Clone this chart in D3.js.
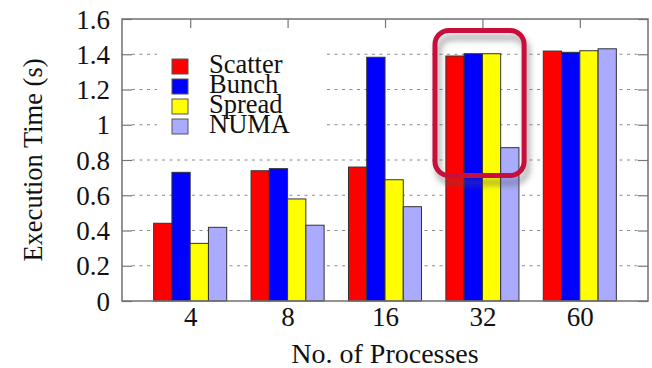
<!DOCTYPE html>
<html><head><meta charset="utf-8">
<script src="https://cdn.jsdelivr.net/npm/d3@7"></script>
<style>body{margin:0;background:#fff}svg{display:block}</style>
</head><body><svg id="c" width="652" height="368"></svg>
<script>
const categories = ["4", "8", "16", "32", "60"];
const seriesNames = ["Scatter", "Bunch", "Spread", "NUMA"];
const scatter = [0.441, 0.739, 0.760, 1.390, 1.418];
const bunch   = [0.730, 0.751, 1.383, 1.403, 1.411];
const spread  = [0.327, 0.579, 0.688, 1.403, 1.420];
const numa    = [0.418, 0.430, 0.535, 0.870, 1.431];
const yTicks = [0, 0.2, 0.4, 0.6, 0.8, 1, 1.2, 1.4, 1.6];
const colors = ["#ff0000", "#0000ff", "#ffff00", "#aaaaff"];
const highlight = {group: "32", dx0: -0.487, dx1: 0.428, y0: 0.712, y1: 1.535};

const FONT = "'Liberation Serif', Tinos, 'DejaVu Serif', 'Noto Serif', serif";
const series = [scatter, bunch, spread, numa];
const svg = d3.select("#c").attr("font-family", FONT);
const L = 122, R = 648, T = 19, B = 301;
const x = d3.scaleLinear().domain([-0.7, categories.length - 0.3]).range([L, R]);
const y = d3.scaleLinear().domain([0, 1.6]).range([B, T]);
const groupW = 0.75, barW = groupW / seriesNames.length;

// grid
const gridG = svg.append("g");
yTicks.filter(t => t > 0 && t < 1.6).forEach(t => {
  gridG.append("line").attr("x1", L + 10).attr("x2", R - 10).attr("y1", y(t)).attr("y2", y(t))
    .attr("stroke", "#8a8a8a").attr("stroke-width", 1).attr("stroke-dasharray", "3,4.5");
});

// axes (ticks inside, mirrored)
const yAxisL = d3.axisLeft(y).tickValues(yTicks).tickSizeInner(-10).tickSizeOuter(0).tickPadding(12)
  .tickFormat(d => String(+d.toFixed(1)));
const gl = svg.append("g").attr("transform", `translate(${L},0)`).call(yAxisL);
const yAxisR = d3.axisRight(y).tickValues(yTicks).tickSizeInner(-10).tickSizeOuter(0).tickFormat("");
const gr = svg.append("g").attr("transform", `translate(${R},0)`).call(yAxisR);
const xAxisT = d3.axisTop(x).tickValues(d3.range(categories.length)).tickSizeInner(-9).tickSizeOuter(0).tickFormat("");
const gt = svg.append("g").attr("transform", `translate(0,${T})`).call(xAxisT);
const xAxisB = d3.axisBottom(x).tickValues(d3.range(categories.length)).tickSizeInner(-9).tickSizeOuter(0)
  .tickPadding(6).tickFormat(i => categories[i]);
const gb = svg.append("g").attr("transform", `translate(0,${B})`).call(xAxisB);
[gl, gr, gt, gb].forEach(g => {
  g.attr("font-family", FONT).attr("font-size", 27);
  g.select(".domain").remove();
  g.selectAll(".tick line").attr("stroke", "#777").attr("stroke-width", 1.2);
  g.selectAll("text").attr("fill", "#111");
});
gl.selectAll(".tick text").attr("dy", "0.34em");
gb.selectAll(".tick text").attr("dy", "0.71em");

// legend background
const legG = svg.append("g");
legG.append("rect").attr("x", 157).attr("y", 45).attr("width", 170).attr("height", 92).attr("fill", "#fff");

// bars
series.forEach((vals, s) => {
  svg.append("g").selectAll("rect").data(vals).join("rect")
    .attr("x", (d, i) => x(i - groupW / 2 + s * barW))
    .attr("width", x(barW) - x(0))
    .attr("y", d => y(d))
    .attr("height", d => y(0) - y(d))
    .attr("fill", colors[s]).attr("stroke", "#333").attr("stroke-width", 1);
});

// frame
svg.append("rect").attr("x", L).attr("y", T).attr("width", R - L).attr("height", B - T)
  .attr("fill", "none").attr("stroke", "#707070").attr("stroke-width", 1.5);

// legend
seriesNames.forEach((n, i) => {
  legG.append("rect").attr("x", 172).attr("y", 59 + i * 20).attr("width", 16).attr("height", 15)
    .attr("fill", colors[i]).attr("stroke", "#555").attr("stroke-width", 1);
  legG.append("text").attr("x", 209).attr("y", 73 + i * 20).attr("font-size", 26.5).attr("fill", "#111").text(n);
});
legG.raise();

// axis titles
svg.append("text").attr("x", (L + R) / 2).attr("y", 363).attr("text-anchor", "middle")
  .attr("font-size", 28).attr("fill", "#111").text("No. of Processes");
svg.append("text").attr("transform", `translate(42,${(T + B) / 2}) rotate(-90)`).attr("text-anchor", "middle")
  .attr("font-size", 26.5).attr("fill", "#111").text("Execution Time (s)");

// highlight box with shadow
const defs = svg.append("defs");
const f = defs.append("filter").attr("id", "sh").attr("x", "-30%").attr("y", "-30%").attr("width", "160%").attr("height", "160%");
f.append("feGaussianBlur").attr("stdDeviation", 3);
const gi = categories.indexOf(highlight.group);
const hx0 = x(gi + highlight.dx0), hx1 = x(gi + highlight.dx1);
const hy0 = y(highlight.y1), hy1 = y(highlight.y0);
svg.append("rect").attr("x", hx0 + 3).attr("y", hy0 + 7).attr("width", hx1 - hx0).attr("height", hy1 - hy0)
  .attr("rx", 14).attr("fill", "none").attr("stroke", "#555").attr("stroke-opacity", 0.55)
  .attr("stroke-width", 5).attr("filter", "url(#sh)");
svg.append("rect").attr("x", hx0).attr("y", hy0).attr("width", hx1 - hx0).attr("height", hy1 - hy0)
  .attr("rx", 14).attr("fill", "none").attr("stroke", "#c80f3c").attr("stroke-width", 5);
</script></body></html>
